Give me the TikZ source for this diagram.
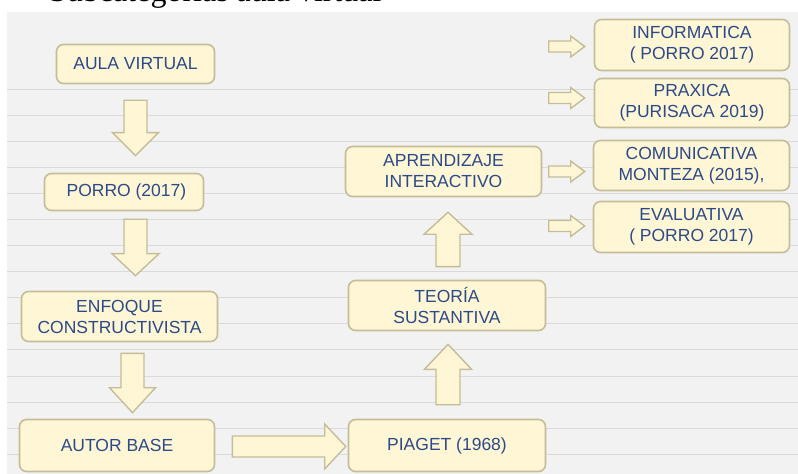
\documentclass[tikz,border=0pt]{standalone}
\usepackage{fontspec}
\setmainfont{Liberation Sans}
\newfontfamily\serifdoc{Liberation Serif}
\usetikzlibrary{calc}
\definecolor{panel}{HTML}{F2F2F2}
\definecolor{rulecol}{HTML}{DADADA}
\definecolor{cream}{HTML}{FFF6D5}
\definecolor{tanline}{HTML}{C4BD97}
\definecolor{ink}{HTML}{2B4A88}
% block arrows: #1 start, #2 tip, #3 shaft half width, #4 head half width, #5 head length
\newcommand\blkdown[5]{\draw[blk] ($(#1)+(-#3,0)$) -- ($(#2)+(-#3,-#5)$) -- ($(#2)+(-#4,-#5)$) -- (#2) -- ($(#2)+(#4,-#5)$) -- ($(#2)+(#3,-#5)$) -- ($(#1)+(#3,0)$) -- cycle;}
\newcommand\blkup[5]{\draw[blk] ($(#1)+(-#3,0)$) -- ($(#2)+(-#3,#5)$) -- ($(#2)+(-#4,#5)$) -- (#2) -- ($(#2)+(#4,#5)$) -- ($(#2)+(#3,#5)$) -- ($(#1)+(#3,0)$) -- cycle;}
\newcommand\blkright[5]{\draw[blk] ($(#1)+(0,-#3)$) -- ($(#2)+(-#5,-#3)$) -- ($(#2)+(-#5,-#4)$) -- (#2) -- ($(#2)+(-#5,#4)$) -- ($(#2)+(-#5,#3)$) -- ($(#1)+(0,#3)$) -- cycle;}
\begin{document}
\begin{tikzpicture}[x=1bp,y=-1bp,
  box/.style={draw=tanline, line width=1.6bp, fill=cream, rounded corners=7bp, inner sep=0pt,
    align=center, text=ink, font=\fontsize{17.5bp}{21bp}\selectfont},
  blk/.style={draw=tanline, line width=1.4bp, fill=cream, line join=miter},
  gridline/.style={draw=rulecol, line width=1bp}]
\useasboundingbox (0,0) rectangle (798,474);
\clip (0,0) rectangle (798,474);
% background panel and ruled lines
\fill[panel] (7,12) rectangle (798,474);
\foreach \k in {0,...,14} \draw[gridline] (7,90+26*\k) -- (798,90+26*\k);
% cut-off heading of the page
\node[anchor=base west, inner sep=0pt, font=\serifdoc\fontsize{32bp}{36bp}\selectfont] (head) at (49,1.5) {Subcategorías aula virtual};
% boxes
\node[box, minimum width=158bp, minimum height=39bp] (aula) at (135.5,64) {AULA VIRTUAL};
\node[box, minimum width=159bp, minimum height=37bp] (porro) at (124,192) {\ PORRO (2017)};
\node[box, minimum width=196bp, minimum height=50bp] (enfoque) at (119.5,316.5) {ENFOQUE\\CONSTRUCTIVISTA};
\node[box, minimum width=195bp, minimum height=52bp] (autor) at (117,445.5) {AUTOR BASE};
\node[box, minimum width=197bp, minimum height=52bp] (piaget) at (447,445.5) {PIAGET (1968)};
\node[box, minimum width=197bp, minimum height=50bp] (teoria) at (447,305.5) {TEORÍA\\SUSTANTIVA};
\node[box, minimum width=196bp, minimum height=50bp] (aprend) at (443.5,171.5) {APRENDIZAJE\\INTERACTIVO};
\node[box, minimum width=195bp, minimum height=51bp] (info) at (692,45) {INFORMATICA\\( PORRO 2017)};
\node[box, minimum width=195bp, minimum height=49bp] (prax) at (692,103) {PRAXICA\\(PURISACA 2019)};
\node[box, minimum width=196bp, minimum height=50bp] (comu) at (691.5,165.5) {COMUNICATIVA\\MONTEZA (2015),};
\node[box, minimum width=196bp, minimum height=51bp] (eval) at (691.5,227) {EVALUATIVA\\( PORRO 2017)};
% connector end points
\coordinate (a1s) at ($(aula.south)+(0,16)$);
\coordinate (a1t) at ($(a1s |- porro.north)+(0,-17)$);
\coordinate (a2s) at ($(porro.south)+(11.5,8)$);
\coordinate (a2t) at ($(a2s |- enfoque.north)+(0,-15)$);
\coordinate (a3s) at ($(enfoque.south)+(13,11)$);
\coordinate (a3t) at ($(a3s |- autor.north)+(0,-6)$);
\coordinate (a4s) at ($(autor.east)+(17,1)$);
\coordinate (a4t) at ($(a4s -| piaget.west)+(-2,0)$);
\coordinate (a5s) at ($(piaget.north)+(1,-14)$);
\coordinate (a5t) at ($(a5s |- teoria.south)+(0,13)$);
\coordinate (a6s) at ($(teoria.north)+(1,-13)$);
\coordinate (a6t) at ($(a6s |- aprend.south)+(0,15)$);
\coordinate (b1s) at ($(info.west)+(-45,1.5)$);
\coordinate (b1t) at ($(info.west)+(-9,1.5)$);
\coordinate (b2s) at ($(prax.west)+(-45,-5)$);
\coordinate (b2t) at ($(prax.west)+(-9,-5)$);
\coordinate (b3s) at ($(comu.west)+(-44,6)$);
\coordinate (b3t) at ($(comu.west)+(-8,6)$);
\coordinate (b4s) at ($(eval.west)+(-44,-1)$);
\coordinate (b4t) at ($(eval.west)+(-8,-1)$);
% block arrows
\blkdown{a1s}{a1t}{11.5}{23}{23}
\blkdown{a2s}{a2t}{11.5}{23.5}{22}
\blkdown{a3s}{a3t}{11.5}{23}{25}
\blkright{a4s}{a4t}{10.5}{22.5}{21}
\blkup{a5s}{a5t}{12}{23.5}{25}
\blkup{a6s}{a6t}{12}{24}{22}
\blkright{b1s}{b1t}{5.5}{10.5}{14}
\blkright{b2s}{b2t}{5.5}{10.5}{14}
\blkright{b3s}{b3t}{5.5}{10.5}{14}
\blkright{b4s}{b4t}{5.5}{10.5}{14}
\end{tikzpicture}
\end{document}
